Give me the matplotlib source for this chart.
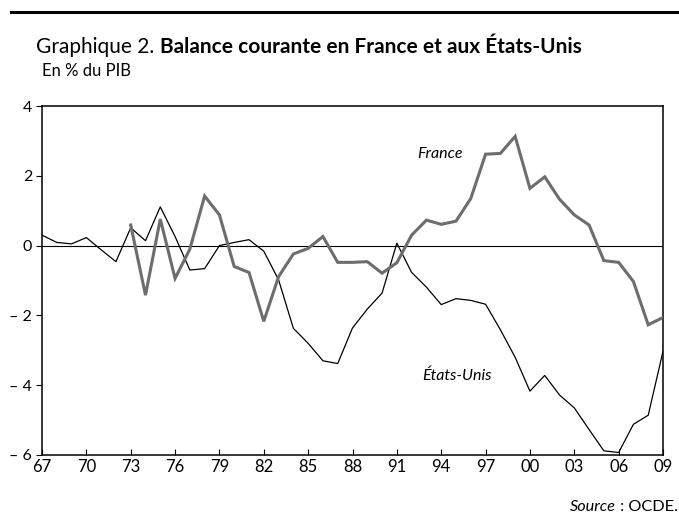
#!/usr/bin/env python3

import matplotlib
matplotlib.use("Agg")
import matplotlib.pyplot as plt

years_us = list(range(1967, 2010))
us = [0.30, 0.09, 0.05, 0.23, -0.12, -0.46, 0.51, 0.14, 1.11, 0.26,
      -0.70, -0.66, 0.00, 0.09, 0.17, -0.16, -0.98, -2.37, -2.80, -3.30,
      -3.38, -2.36, -1.82, -1.36, 0.07, -0.77, -1.19, -1.69, -1.52, -1.57,
      -1.68, -2.41, -3.20, -4.17, -3.72, -4.28, -4.65, -5.27, -5.88, -5.93,
      -5.12, -4.86, -3.03]

years_fr = list(range(1973, 2010))
france = [0.59, -1.42, 0.76, -0.94, -0.10, 1.42, 0.88, -0.60, -0.77, -2.17,
          -0.89, -0.24, -0.08, 0.26, -0.48, -0.48, -0.46, -0.79, -0.49, 0.30,
          0.73, 0.61, 0.70, 1.35, 2.62, 2.64, 3.13, 1.64, 1.97, 1.33,
          0.88, 0.59, -0.43, -0.48, -1.03, -2.27, -2.06]

xticks = [1967, 1970, 1973, 1976, 1979, 1982, 1985, 1988, 1991, 1994,
          1997, 2000, 2003, 2006, 2009]
xlabels = ["67", "70", "73", "76", "79", "82", "85", "88", "91", "94",
           "97", "00", "03", "06", "09"]
yticks = [-6, -4, -2, 0, 2, 4]
ylabels = ["\u2013 6", "\u2013 4", "\u2013 2", "0", "2", "4"]

plt.rcParams["font.family"] = ["Lato", "DejaVu Sans"]

fig = plt.figure(figsize=(6.79, 5.22), dpi=100)
ax = fig.add_axes([42 / 679, 1 - 455 / 522, 621 / 679, 349 / 522])

ax.axhline(0, color="black", lw=0.8, zorder=1)
ax.plot(years_us, us, color="black", lw=0.9, zorder=2)
ax.plot(years_fr, france, color="#6d6d6d", lw=2.2, zorder=3,
        solid_joinstyle="miter")

ax.set_xlim(1967, 2009)
ax.set_ylim(-6, 4)
ax.set_xticks(xticks)
ax.set_xticklabels(xlabels)
ax.set_yticks(yticks)
ax.set_yticklabels(ylabels)
ax.tick_params(axis="x", direction="in", length=4, width=0.8, pad=3,
               labelsize=12)
ax.tick_params(axis="y", direction="out", length=4, width=0.8, pad=3,
               labelsize=11.5)
for s in ax.spines.values():
    s.set_linewidth(1.1)

ax.text(1992.4, 2.5, "France", style="italic", fontsize=11.5)
ax.text(1992.7, -3.85, "\u00c9tats-Unis", style="italic", fontsize=11.5)

# top rule and titles
fig.add_artist(plt.Line2D([11 / 679, 1], [1 - 12 / 522, 1 - 12 / 522],
                          color="black", lw=2.2))
t1 = fig.text(36 / 679, 1 - 53 / 522, "Graphique 2. ", fontsize=15,
              va="baseline")
fig.canvas.draw()
ax.annotate("Balance courante en France et aux \u00c9tats-Unis",
            xy=(1, 0), xycoords=t1, xytext=(0, 0), textcoords="offset points",
            fontsize=15, fontweight="bold", va="bottom",
            annotation_clip=False)
fig.text(42 / 679, 1 - 76 / 522, "En % du PIB", fontsize=12)

t2 = fig.text(678 / 679, 1 - 511 / 522, " : OCDE.", fontsize=11.7,
              ha="right")
ax.annotate("Source", xy=(0, 0), xycoords=t2, fontsize=11.7,
            style="italic", ha="right", va="bottom", annotation_clip=False)

fig.savefig("out.png", dpi=100)
